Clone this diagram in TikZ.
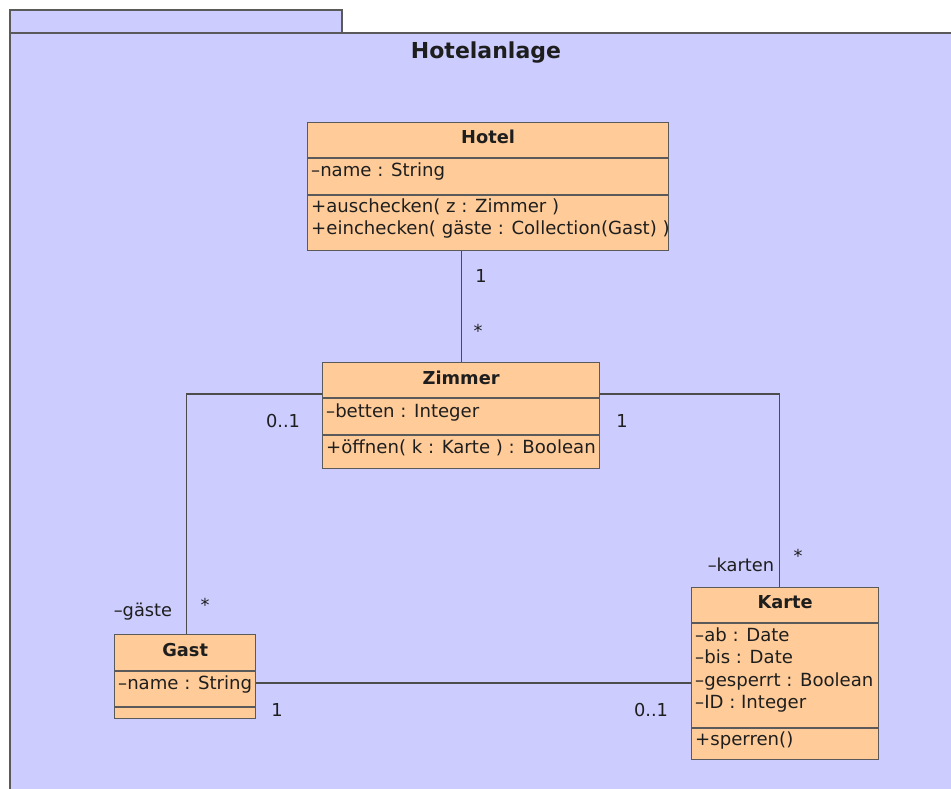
\documentclass[tikz,border=0pt]{standalone}
\usepackage{fontspec}
\setmainfont{DejaVu Sans}
\usetikzlibrary{positioning}
\definecolor{pkgfill}{HTML}{CCCCFF}
\definecolor{classfill}{HTML}{FFCC99}
\definecolor{edgegray}{HTML}{5A5A5A}
\definecolor{txt}{HTML}{1E1E1E}
\tikzset{
  pkgframe/.style={draw=edgegray, fill=pkgfill, line width=1.3pt},
  pkgtitle/.style={font=\fontsize{22}{26}\selectfont\bfseries, inner sep=0pt, text=txt},
  classbox/.style={draw=edgegray, fill=classfill, line width=1.3pt, anchor=north west, inner sep=0pt},
  sepline/.style={draw=edgegray, line width=1.3pt},
  classtitle/.style={font=\fontsize{17.8}{22}\selectfont\bfseries, anchor=base, inner sep=0pt, text=txt},
  member/.style={font=\fontsize{18.1}{22.5}\selectfont, anchor=base west, inner sep=0pt, align=left, text=txt},
  assoc/.style={draw=edgegray!85!black, line width=1.2pt},
  mult/.style={font=\fontsize{17.8}{22}\selectfont, inner sep=0pt, text=txt},
}
\begin{document}
\begin{tikzpicture}[x=1pt, y=-1pt]
  \useasboundingbox (0,0) rectangle (951,789);
  \begin{scope}
    \clip (0,0) rectangle (951,789);
    \draw[pkgframe] (10,10) rectangle (342,33);
    \draw[pkgframe] (10,33) rectangle (990,830);
  \end{scope}
  \node[pkgtitle] (pkg) at (486,53) {Hotelanlage};

  \node[classbox, minimum width=361pt, minimum height=128pt] (hotel) at (307,122) {};
  \draw[sepline] ([yshift=-36pt]hotel.north west) -- ([yshift=-36pt]hotel.north east);
  \draw[sepline] ([yshift=-73pt]hotel.north west) -- ([yshift=-73pt]hotel.north east);
  \node[classtitle] (hotel-name) at ([yshift=-22pt]hotel.north) {Hotel};
  \node[member] (hotel-attr) at ([xshift=4pt,yshift=-55pt]hotel.north west) {–name : String};
  \node[member] (hotel-ops) at ([xshift=4pt,yshift=-112.5pt]hotel.north west)
    {+auschecken( z : Zimmer )\\+einchecken( gäste : Collection(Gast) )};

  \node[classbox, minimum width=277pt, minimum height=106pt] (zimmer) at (322,362) {};
  \draw[sepline] ([yshift=-36pt]zimmer.north west) -- ([yshift=-36pt]zimmer.north east);
  \draw[sepline] ([yshift=-73pt]zimmer.north west) -- ([yshift=-73pt]zimmer.north east);
  \node[classtitle] (zimmer-name) at ([yshift=-22pt]zimmer.north) {Zimmer};
  \node[member] (zimmer-attr) at ([xshift=4pt,yshift=-55pt]zimmer.north west) {–betten : Integer};
  \node[member] (zimmer-ops) at ([xshift=4pt,yshift=-91pt]zimmer.north west) {+öffnen( k : Karte ) : Boolean};

  \node[classbox, minimum width=141pt, minimum height=84pt] (gast) at (114,634) {};
  \draw[sepline] ([yshift=-37pt]gast.north west) -- ([yshift=-37pt]gast.north east);
  \draw[sepline] ([yshift=-73pt]gast.north west) -- ([yshift=-73pt]gast.north east);
  \node[classtitle] (gast-name) at ([yshift=-22pt]gast.north) {Gast};
  \node[member] (gast-attr) at ([xshift=4pt,yshift=-55pt]gast.north west) {–name : String};

  \node[classbox, minimum width=187pt, minimum height=172pt] (karte) at (691,587) {};
  \draw[sepline] ([yshift=-36pt]karte.north west) -- ([yshift=-36pt]karte.north east);
  \draw[sepline] ([yshift=-141pt]karte.north west) -- ([yshift=-141pt]karte.north east);
  \node[classtitle] (karte-name) at ([yshift=-21pt]karte.north) {Karte};
  \node[member] (karte-attr) at ([xshift=4pt,yshift=-121.5pt]karte.north west)
    {–ab : Date\\–bis : Date\\–gesperrt : Boolean\\–ID : Integer};
  \node[member] (karte-ops) at ([xshift=4pt,yshift=-158pt]karte.north west) {+sperren()};

  \draw[assoc] (hotel.south -| zimmer.north) -- (zimmer.north);
  \draw[assoc] ([yshift=-32pt]zimmer.north west) -| ([xshift=1.5pt]gast.north);
  \draw[assoc] ([yshift=-32pt]zimmer.north east) -| ([xshift=-5.5pt]karte.north);
  \draw[assoc] ([yshift=-49pt]gast.north east) -- ([yshift=-49pt]gast.north east -| karte.west);

  \node[mult] (m-hotel) at (481,276) {1};
  \node[mult] (m-zimmer-h) at (478,331) {*};
  \node[mult] (m-zimmer-g) at (283,421) {0..1};
  \node[mult] (m-gast-z) at (205,605) {*};
  \node[mult] (r-gast) at (143,612) {–gäste};
  \node[mult] (m-zimmer-k) at (622,421) {1};
  \node[mult] (m-karte-z) at (798,556) {*};
  \node[mult] (r-karte) at (741,565) {–karten};
  \node[mult] (m-gast-k) at (277,710) {1};
  \node[mult] (m-karte-g) at (651,710) {0..1};
\end{tikzpicture}
\end{document}
